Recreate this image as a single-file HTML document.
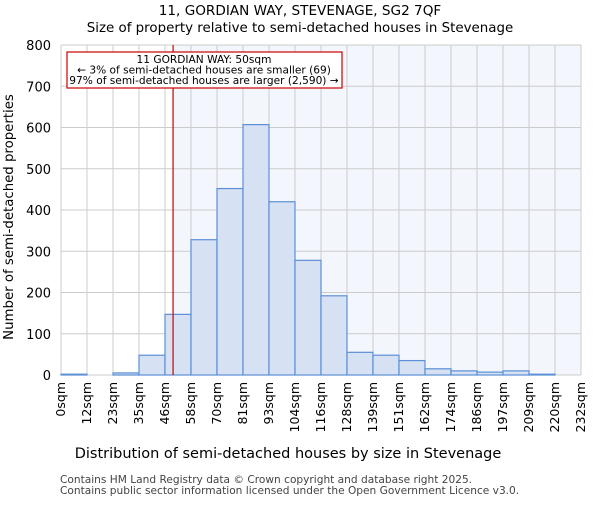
<!DOCTYPE html>
<html><head><meta charset="utf-8"><style>body{margin:0;background:#fff}svg{font-family:"DejaVu Sans","Liberation Sans",sans-serif}</style></head>
<body>
<svg id="c" width="600" height="500" xmlns="http://www.w3.org/2000/svg">
<text x="300" y="15" text-anchor="middle" font-size="13.6">11, GORDIAN WAY, STEVENAGE, SG2 7QF</text>
<text x="300" y="32" text-anchor="middle" font-size="13.4">Size of property relative to semi-detached houses in Stevenage</text>
<g id="plot"></g>
<text x="288" y="458" text-anchor="middle" font-size="14.5">Distribution of semi-detached houses by size in Stevenage</text>
<text transform="translate(13,217) rotate(-90)" text-anchor="middle" font-size="13.3">Number of semi-detached properties</text>
<text x="60" y="483" font-size="10.6" fill="#444">Contains HM Land Registry data © Crown copyright and database right 2025.</text>
<text x="60" y="494" font-size="10.6" fill="#444">Contains public sector information licensed under the Open Government Licence v3.0.</text>
</svg>
<script>
const categories=["0sqm","12sqm","23sqm","35sqm","46sqm","58sqm","70sqm","81sqm","93sqm","104sqm","116sqm","128sqm","139sqm","151sqm","162sqm","174sqm","186sqm","197sqm","209sqm","220sqm","232sqm"];
const counts=[2,0,5,48,147,328,452,607,420,278,192,55,48,35,15,10,7,10,2,0];
const yTicks=[0,100,200,300,400,500,600,700,800];
const propertySize=50;
const binEdges=[0,11.6,23.2,34.8,46.4,58,69.6,81.2,92.8,104.4,116,127.6,139.2,150.8,162.4,174,185.6,197.2,208.8,220.4,232];
const NS="http://www.w3.org/2000/svg";
const X0=61,X1=581,Y0=375,Y1=45,yMax=800;
const bw=(X1-X0)/counts.length;
const xs=v=>X0+(v-binEdges[0])/(binEdges[binEdges.length-1]-binEdges[0])*(X1-X0);
const ys=v=>Y0-v/yMax*(Y0-Y1);
const g=document.getElementById('plot');
function mk(t,a){const e=document.createElementNS(NS,t);for(const k in a)e.setAttribute(k,a[k]);g.appendChild(e);return e;}
const px=xs(propertySize);
let e=mk('rect',{x:px,y:Y1,width:X1-px,height:Y0-Y1,fill:'#f3f6fd'});


for(let i=0;i<=counts.length;i++){e=mk('line',{x1:X0+i*bw,x2:X0+i*bw,y1:Y1,y2:Y0,stroke:'#ccc','stroke-width':1});

}
yTicks.forEach(t=>{e=mk('line',{x1:X0,x2:X1,y1:ys(t),y2:ys(t),stroke:'#ccc','stroke-width':1});


e=mk('text',{x:X0-10,y:ys(t)+5,'text-anchor':'end','font-size':13});e.textContent=t;

});
counts.forEach((c,i)=>{e=mk('rect',{x:xs(binEdges[i]),y:ys(c),width:xs(binEdges[i+1])-xs(binEdges[i]),height:Y0-ys(c),fill:'#d6e1f3',stroke:'#5b8fd6','stroke-width':1.2});

});
categories.forEach((c,i)=>{const x=xs(binEdges[i])+4;e=mk('text',{transform:`translate(${x},382) rotate(-90)`,'text-anchor':'end','font-size':12.5});e.textContent=c;

});
e=mk('line',{x1:px,x2:px,y1:Y1,y2:Y0,stroke:'#cc0000','stroke-width':1.2});


e=mk('rect',{x:67,y:52,width:275,height:36,fill:'#fff',stroke:'#cc0000','stroke-width':1.2});


["11 GORDIAN WAY: 50sqm","← 3% of semi-detached houses are smaller (69)","97% of semi-detached houses are larger (2,590) →"].forEach((t,i)=>{e=mk('text',{x:204,y:63+i*10.5,'text-anchor':'middle','font-size':10.6});e.textContent=t;

});
</script>
</body></html>
